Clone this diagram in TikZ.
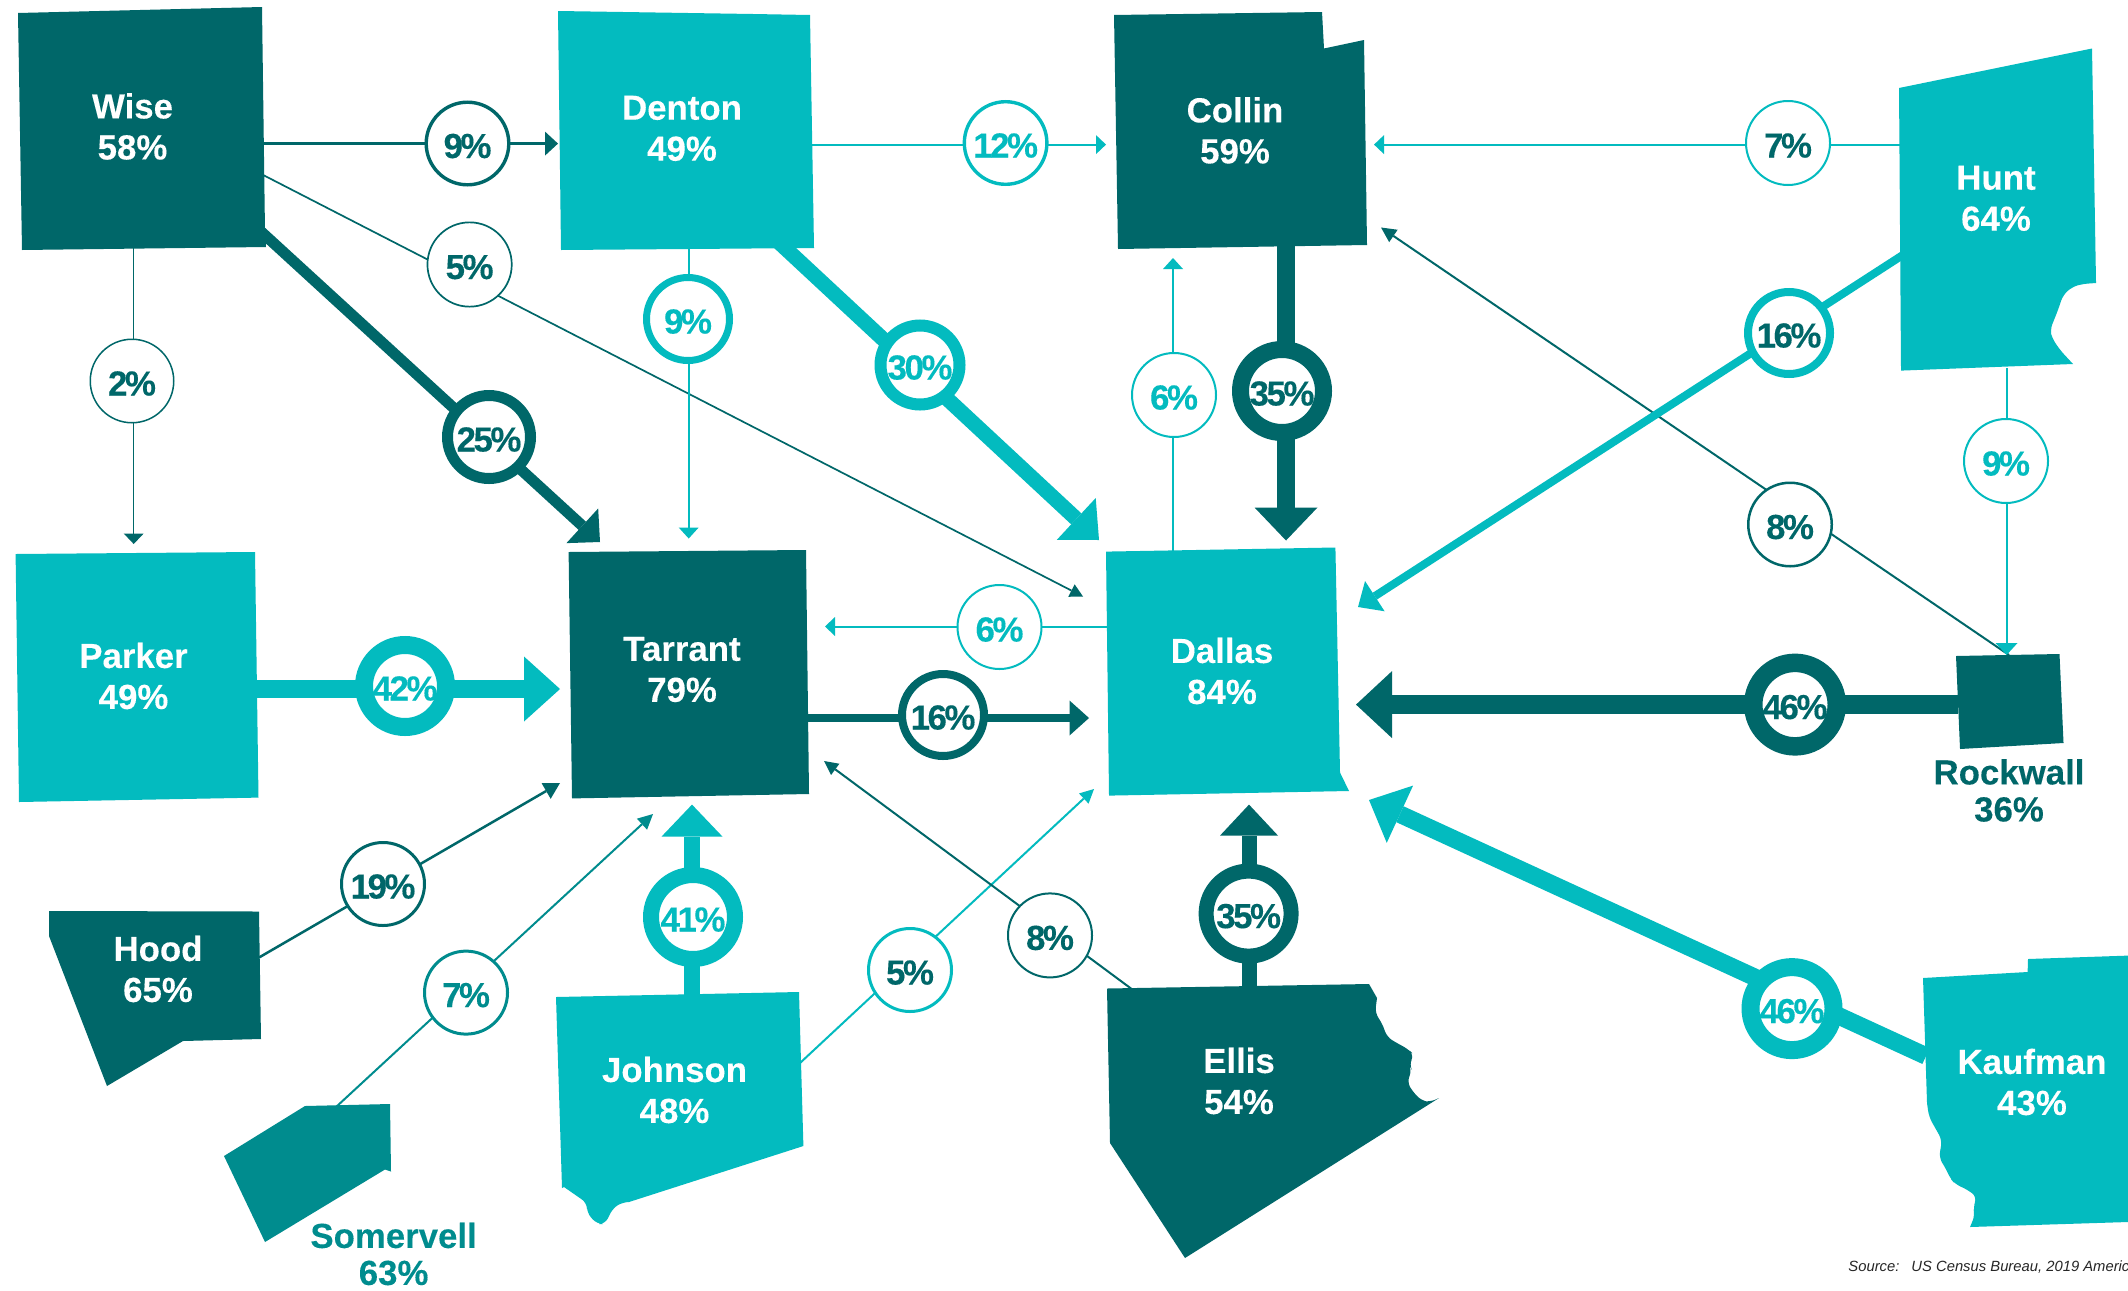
\documentclass[tikz,border=0pt]{standalone}
\usepackage{fontspec}
\setmainfont{Liberation Sans}
\newfontfamily\tightfont[LetterSpace=-7,FakeBold=0.25]{Liberation Sans}
\newfontfamily\labelfont[FakeBold=0.2]{Liberation Sans}
\usetikzlibrary{arrows.meta}
\definecolor{dk}{HTML}{006769}
\definecolor{cy}{HTML}{03BBBF}
\definecolor{so}{HTML}{008C8E}
\tikzset{
  county/.style={inner sep=0pt,align=center,text=white,font={\fontsize{17.4}{20.5}\selectfont\labelfont\bfseries}},
  outlabel/.style={inner sep=0pt,align=center,text=#1,font={\fontsize{17.4}{18.5}\selectfont\labelfont\bfseries}},
  bub/.style n args={4}{circle,inner sep=0pt,fill=white,draw=#3,text=#4,
     minimum size={(#1-#2)*0.5pt},line width={#2*0.5pt},text height=14.5pt,text depth=0pt,
     font={\fontsize{17.4}{20}\selectfont\tightfont\bfseries}},
  conn/.style n args={4}{draw=#4,line width={#1*0.5pt},
     -{Triangle[length={#2*0.5pt},width={#3*0.5pt},line width=0pt]}},
}
\begin{document}
\begin{tikzpicture}[x=0.5pt,y=-0.5pt]
\clip (0,0) rectangle (2128,1290);
\fill[white] (0,0) rectangle (2128,1290);
% connector ends
\coordinate (wiseA) at (262,143.6);  \coordinate (dentonW) at (558,143.6);
\coordinate (dentonA) at (810,144.6);\coordinate (collinW) at (1106,144.6);
\coordinate (huntA) at (1902,144.6); \coordinate (collinE) at (1374,144.6);
\coordinate (wiseB) at (262,174.4);  \coordinate (dallasNW) at (1083,596.5);
\coordinate (dentonB) at (770,234);  \coordinate (dallasN) at (1099,540);
\coordinate (wiseC) at (250,221.5);  \coordinate (tarrantNW) at (600,542);
\coordinate (wiseD) at (133.7,248);  \coordinate (parkerN) at (133.7,544);
\coordinate (dentonC) at (688.7,248);\coordinate (tarrantN) at (688.7,538.5);
\coordinate (dallasA) at (1108,626.5);\coordinate (tarrantE) at (825,626.5);
\coordinate (dallasB) at (1173,553); \coordinate (collinS) at (1173,258);
\coordinate (collinA) at (1286,243); \coordinate (dallasN2) at (1286,540.5);
\coordinate (huntB) at (1902,255.5); \coordinate (dallasNE) at (1358,607);
\coordinate (rockA) at (2009,655);   \coordinate (collinSE) at (1381,227.5);
\coordinate (huntC) at (2006.5,368); \coordinate (rockN) at (2006.5,655);
\coordinate (rockB) at (1958,704.6); \coordinate (dallasE) at (1356,704.6);
\coordinate (kaufA) at (1926,1056);  \coordinate (dallasSE) at (1369,800);
\coordinate (johnA) at (692,999);    \coordinate (tarrantS) at (692,804.6);
\coordinate (ellisA) at (1249,988);  \coordinate (dallasS) at (1249,804.6);
\coordinate (parkA) at (256,689);    \coordinate (tarrantW) at (560,689);
\coordinate (tarrantA) at (808,718); \coordinate (dallasW) at (1089,718);
\coordinate (hoodA) at (259,957.5);  \coordinate (tarrantSW) at (560,783);
\coordinate (somA) at (336,1107);    \coordinate (tarrantS2) at (653,814);
\coordinate (johnB) at (800,1063);   \coordinate (dallasSW) at (1094,789);
\coordinate (ellisB) at (1133,990);  \coordinate (tarrantSE) at (824,761);
% connectors
\path[conn={3.4}{13}{24}{dk}] (wiseA) -- (dentonW);
\path[conn={2}{10}{19}{cy}] (dentonA) -- (collinW);
\path[conn={2}{10}{19}{cy}] (huntA) -- (collinE);
\path[conn={1.7}{13}{14}{dk}] (wiseB) -- (dallasNW);
\path[conn={15}{31}{57}{cy}] (dentonB) -- (dallasN);
\path[conn={11}{24}{47}{dk}] (wiseC) -- (tarrantNW);
\path[conn={1.5}{10.5}{20}{dk}] (wiseD) -- (parkerN);
\path[conn={2}{11}{20}{cy}] (dentonC) -- (tarrantN);
\path[conn={2}{10}{19}{cy}] (dallasA) -- (tarrantE);
\path[conn={2}{11}{20}{cy}] (dallasB) -- (collinS);
\path[conn={17.6}{33}{63}{dk}] (collinA) -- (dallasN2);
\path[conn={2}{15}{15}{dk}] (rockA) -- (collinSE);
\path[conn={8}{20}{36}{cy}] (huntB) -- (dallasNE);
\path[conn={2}{12}{22}{cy}] (huntC) -- (rockN);
\path[conn={19}{36}{67}{dk}] (rockB) -- (dallasE);
\path[conn={17.5}{34}{63}{cy}] (kaufA) -- (dallasSE);
\path[conn={16.5}{32}{61}{cy}] (johnA) -- (tarrantS);
\path[conn={15}{31}{58}{dk}] (ellisA) -- (dallasS);
\path[conn={18.5}{36}{65}{cy}] (parkA) -- (tarrantW);
\path[conn={7.5}{19.5}{35}{dk}] (tarrantA) -- (dallasW);
\path[conn={2.5}{16}{18}{dk}] (hoodA) -- (tarrantSW);
\path[conn={2}{15}{15}{so}] (somA) -- (tarrantS2);
\path[conn={2}{14}{14}{cy}] (johnB) -- (dallasSW);
\path[conn={2}{14}{14}{dk}] (ellisB) -- (tarrantSE);
% county shapes
\fill[dk] (18,13) -- (262,7) -- (265,232) -- (266,247) -- (22,250) -- cycle;
\fill[cy] (558,11) -- (753,14) -- (810,15) -- (814,248) -- (561,250) -- cycle;
\fill[dk] (1114,15) -- (1322,12) -- (1324,48.5) -- (1364,40) -- (1367,245) -- (1118,249) -- cycle;
\fill[cy] (1899,88) -- (2092,48.5) -- (2096,283) [rounded corners=3pt] -- (2082,284) -- (2072,287) -- (2063,295) -- (2058,310) -- (2050,330) -- (2052,338) -- (2060,350) [sharp corners] -- (2073,364) -- (1901,370.6) -- cycle;
\fill[cy] (15.6,554) -- (255,552) -- (258.5,797.6) -- (19,802) -- cycle;
\fill[dk] (568.6,552) -- (806,550) -- (809,794) -- (572,798.4) -- cycle;
\fill[cy] (1106,551.6) -- (1335.4,547.5) -- (1340,772.5) -- (1349,791) -- (1109,795.6) -- cycle;
\fill[dk] (1956,656) -- (2059.5,654) -- (2063.5,743) -- (1960,749) -- cycle;
\fill[dk] (49,911) -- (259,911.5) -- (261,1039) -- (183,1041) -- (107,1086) -- (49,936) -- cycle;
\fill[so] (224,1156) -- (305,1106) -- (390,1104) -- (391,1171.5) -- (385,1169.5) -- (265,1242) -- cycle;
\fill[cy] (556,997) -- (799,992) -- (803.4,1146) -- (629,1202) [rounded corners=3pt] -- (623,1202) -- (613,1208) -- (605,1224) -- (597,1224) -- (587,1213) -- (587,1203) [sharp corners] -- (564,1187) -- (562,1188) -- cycle;
\fill[dk] (1107,988.5) -- (1369,984) -- (1377,998) [rounded corners=3pt] -- (1375,1013) -- (1382,1023) -- (1387,1037) -- (1395,1042) -- (1408,1049) -- (1414,1055) -- (1409,1065) -- (1412,1070) -- (1407,1082) -- (1413,1092) -- (1422,1101) -- (1430,1102) [sharp corners] -- (1439,1098) -- (1185,1258) -- (1110,1143) -- cycle;
\fill[cy] (1923,978) -- (2027.6,972) -- (2028,959) -- (2128,955.6) -- (2128,1222) -- (1970,1227) [rounded corners=3pt] -- (1975,1215) -- (1973,1207) -- (1977,1197) -- (1968,1190) -- (1955,1184) -- (1950,1178) -- (1945,1167) -- (1939,1158) -- (1942,1140) -- (1929,1117) [sharp corners] -- (1927,1103) -- cycle;
% county labels
\node[county] (wise) at (132.5,126.5) {Wise\\58\%};
\node[county] (denton) at (682,128.4) {Denton\\49\%};
\node[county] (collin) at (1235,130.4) {Collin\\59\%};
\node[county] (hunt) at (1996,198.4) {Hunt\\64\%};
\node[county] (parker) at (133.5,676) {Parker\\49\%};
\node[county] (tarrant) at (682,669.5) {Tarrant\\79\%};
\node[county] (dallas) at (1222,671) {Dallas\\84\%};
\node[outlabel=dk] (rockwall) at (2009,790.5) {Rockwall\\36\%};
\node[county] (kaufman) at (2032,1082) {Kaufman\\43\%};
\node[county] (ellis) at (1239,1081) {Ellis\\54\%};
\node[county] (johnson) at (674.5,1090) {Johnson\\48\%};
\node[county] (hood) at (158,969) {Hood\\65\%};
\node[outlabel=so] (somervell) at (393.6,1254) {Somervell\\63\%};
% percent bubbles
\node[bub={86}{3.4}{dk}{dk}] (b1) at (467.5,143.5) {9\%};
\node[bub={86}{3.4}{cy}{cy}] (b2) at (1005.6,143) {12\%};
\node[bub={86}{2}{cy}{dk}] (b3) at (1788,143) {7\%};
\node[bub={86}{1.7}{dk}{dk}] (b4) at (469.6,264.5) {5\%};
\node[bub={91}{12}{cy}{cy}] (b5) at (920,365) {30\%};
\node[bub={90}{7}{cy}{cy}] (b6) at (688,319) {9\%};
\node[bub={94}{11}{dk}{dk}] (b7) at (489,437) {25\%};
\node[bub={85}{1.5}{dk}{dk}] (b8) at (132,381) {2\%};
\node[bub={90}{8}{dk}{dk}] (b9) at (943,715) {16\%};
\node[bub={86}{2}{cy}{cy}] (b10) at (999.5,627) {6\%};
\node[bub={100}{18}{cy}{cy}] (b11) at (405,686) {42\%};
\node[bub={86}{3}{dk}{dk}] (b12) at (383,884) {19\%};
\node[bub={86}{3}{so}{so}] (b13) at (466,992.6) {7\%};
\node[bub={100}{16}{cy}{cy}] (b14) at (693,917) {41\%};
\node[bub={86}{3}{cy}{dk}] (b15) at (910,970) {5\%};
\node[bub={86}{2}{dk}{dk}] (b16) at (1050,935.4) {8\%};
\node[bub={100}{15}{dk}{dk}] (b17) at (1248.6,913.6) {35\%};
\node[bub={101}{18}{cy}{cy}] (b18) at (1792,1008.6) {46\%};
\node[bub={102}{18.5}{dk}{dk}] (b19) at (1795,704.6) {46\%};
\node[bub={86}{2.5}{dk}{dk}] (b20) at (1790,524.5) {8\%};
\node[bub={90}{8}{cy}{dk}] (b21) at (1789,333) {16\%};
\node[bub={86}{2}{cy}{cy}] (b22) at (2006,461) {9\%};
\node[bub={86}{2}{cy}{cy}] (b23) at (1174,395) {6\%};
\node[bub={100}{17}{dk}{dk}] (b24) at (1282,391) {35\%};
% source
\node[anchor=west,inner sep=0pt,text=black!85,font={\fontsize{7.4}{9}\selectfont\itshape}] (source) at (1848,1267) {Source:\hspace{6pt}US Census Bureau, 2019 Americ};
\end{tikzpicture}
\end{document}
